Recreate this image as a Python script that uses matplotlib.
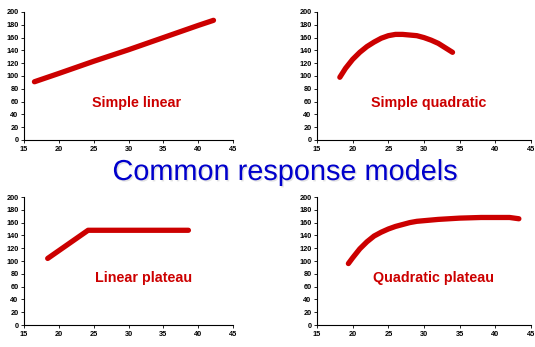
import matplotlib
matplotlib.use("Agg")
import matplotlib.pyplot as plt
import matplotlib.patheffects as pe

plt.rcParams["font.family"] = ["Liberation Sans", "DejaVu Sans"]

W, H = 535, 347

# Simple linear response
linear_x = [16.5, 20, 25, 30, 35, 40, 42.2]
linear_y = [91, 104, 123, 141, 160, 179, 187]

# Simple quadratic response
quad_x = [18.2, 19, 20, 21, 22, 23, 24, 25, 26, 27, 28, 29, 30, 31, 32, 33, 34]
quad_y = [98, 112, 126, 137, 146, 153, 159, 163, 165, 165, 164, 163, 160, 156, 151, 144, 137]

# Linear plateau response
lp_x = [18.4, 24.2, 38.6]
lp_y = [104, 148, 148]

# Quadratic plateau response
qp_x = [19.4, 20, 21, 22, 23, 24, 25, 26, 27, 28, 29, 30, 32, 35, 38, 40, 42, 43.3]
qp_y = [96, 105, 119, 130, 139, 145, 150, 154, 157, 160, 162, 163, 165, 167, 168, 168, 168, 166]

panels = [
    # (left, top, right, bottom) in pixels, x, y, label, label position
    ((24, 12, 233, 140), linear_x, linear_y, "Simple linear", (31.2, 58)),
    ((317, 12, 531, 140), quad_x, quad_y, "Simple quadratic", (30.6, 58)),
    ((24, 197, 233, 325), lp_x, lp_y, "Linear plateau", (32.2, 74)),
    ((317, 197, 531, 325), qp_x, qp_y, "Quadratic plateau", (31.4, 74)),
]

RED = "#cc0000"

fig = plt.figure(figsize=(W / 100, H / 100), dpi=100)

for (l, t, r, b), xs, ys, label, (lx, ly) in panels:
    ax = fig.add_axes([l / W, 1 - b / H, (r - l) / W, (b - t) / H])
    ax.plot(xs, ys, color=RED, lw=3.8, solid_capstyle="round", solid_joinstyle="round")
    ax.set_xlim(15, 45)
    ax.set_ylim(0, 200)
    ax.set_xticks(range(15, 46, 5))
    ax.set_yticks(range(0, 201, 20))
    ax.spines[["top", "right"]].set_visible(False)
    for s in ("left", "bottom"):
        ax.spines[s].set_linewidth(0.8)
    ax.tick_params(labelsize=5.3, length=2, width=0.6, pad=2, colors="black")
    for lab in ax.get_xticklabels() + ax.get_yticklabels():
        lab.set_fontweight("bold")
    ax.text(lx, ly, label, color=RED, fontsize=10.3, fontweight="bold",
            ha="center", va="center")

fig.text(285 / W, 1 - 172 / H, "Common response models", color="#0000cc",
         fontsize=20.8, ha="center", va="center",
         path_effects=[pe.SimplePatchShadow(offset=(1, -1), shadow_rgbFace="#c0c0c0", alpha=0.45),
                       pe.Normal()])

fig.savefig("out.png", dpi=100)
